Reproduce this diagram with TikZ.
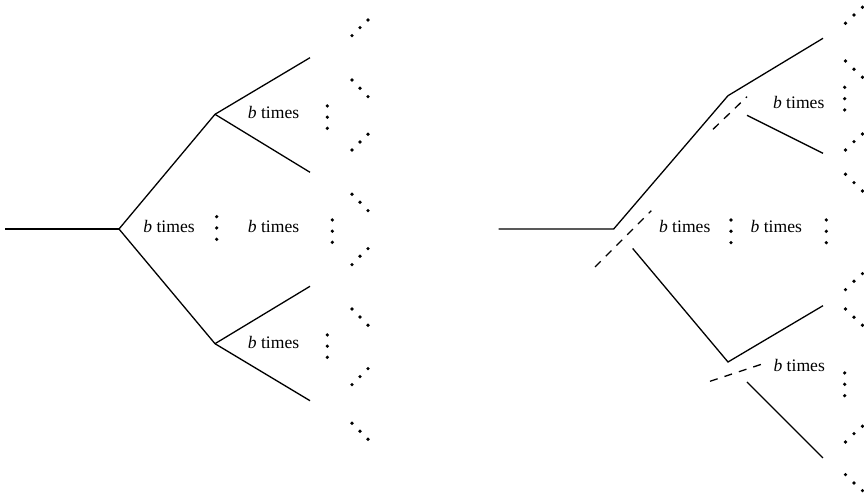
\documentclass[tikz,border=0pt]{standalone}
\usepackage{fontspec}
\setmainfont{Liberation Serif}
\begin{document}
\begin{tikzpicture}[x=0.5pt,y=-0.5pt,
  edge/.style={line width=0.65pt},
  cutline/.style={line width=0.65pt,dash pattern=on 4pt off 3.6pt},
  lbl/.style={anchor=base,inner sep=0pt,font=\fontsize{8.8}{10}\selectfont},
  dotr/.style={fill=black}]
\useasboundingbox (0,0) rectangle (864,496);
% ---------- left tree ----------
\coordinate (L0) at (5,229);
\coordinate (L1) at (119,229);
\coordinate (LU) at (215,114.3);
\coordinate (LD) at (215,343.7);
\coordinate (LUU) at (310,57.7);
\coordinate (LUD) at (310,172.3);
\coordinate (LDU) at (310,286.3);
\coordinate (LDD) at (310,400.7);
\draw[edge] (L0) -- (L1);
\draw[edge] (L1) -- (LU);
\draw[edge] (L1) -- (LD);
\draw[edge] (LU) -- (LUU);
\draw[edge] (LU) -- (LUD);
\draw[edge] (LD) -- (LDU);
\draw[edge] (LD) -- (LDD);
\node[lbl] (la) at (169,232.3) {\textit{b} times};
\node[lbl] (lb) at (273.5,232.3) {\textit{b} times};
\node[lbl] (lc) at (273.5,118.3) {\textit{b} times};
\node[lbl] (ld) at (273.5,348.7) {\textit{b} times};
% vertical dots
\foreach \x/\y in {216.7/216.7, 216.7/228, 216.7/239.3,
                   332.3/220, 332.3/231.2, 332.3/242.3,
                   327.3/106, 327.3/117.2, 327.3/128.3,
                   327.3/335, 327.3/346.2, 327.3/357.3}
  \fill[dotr] (\x,\y) circle (0.9pt);
% diagonal dots
\foreach \ya/\yb/\yc in {35.7/27.7/20, 80/88.3/96.7, 150/142/134.3, 194.3/202.3/210.7,
                         264.7/256.3/248.7, 309/317/325.3, 384.7/376.7/368.7, 423.3/431.3/439.3}
  {\fill[dotr] (352,\ya) circle (0.9pt);
   \fill[dotr] (360,\yb) circle (0.9pt);
   \fill[dotr] (368,\yc) circle (0.9pt);}
% ---------- right tree ----------
\coordinate (R0) at (498.7,229);
\coordinate (R1) at (613.7,229);
\coordinate (RU) at (728,95.7);
\coordinate (RUU) at (823,38.3);
\coordinate (RUDs) at (747,115.3);
\coordinate (RUD) at (823,153.3);
\coordinate (RUc1) at (713,129.3);
\coordinate (RUc2) at (747,96.7);
\coordinate (Rc1) at (595,267);
\coordinate (Rc2) at (651.3,210.7);
\coordinate (RDs) at (632.7,248.5);
\coordinate (RD) at (728,362);
\coordinate (RDU) at (823,305.7);
\coordinate (RDc1) at (710,381.3);
\coordinate (RDc2) at (765.3,363);
\coordinate (RDDs) at (747,382);
\coordinate (RDD) at (823,458);
\draw[edge] (R0) -- (R1) -- (RU) -- (RUU);
\draw[edge] (RUDs) -- (RUD);
\draw[cutline] (RUc1) -- (RUc2);
\draw[cutline] (Rc1) -- (Rc2);
\draw[edge] (RDs) -- (RD) -- (RDU);
\draw[cutline] (RDc1) -- (RDc2);
\draw[edge] (RDDs) -- (RDD);
\node[lbl] (ra) at (684.7,232.3) {\textit{b} times};
\node[lbl] (rb) at (776.3,232.3) {\textit{b} times};
\node[lbl] (rc) at (798.7,108.3) {\textit{b} times};
\node[lbl] (rd) at (799.2,371.3) {\textit{b} times};
\foreach \x/\y in {731/220, 731/231.3, 731/242.7,
                   826.3/220, 826.3/231.3, 826.3/242.7,
                   844.7/87.3, 844.7/98.7, 844.7/110,
                   844.7/373, 844.7/384.3, 844.7/395.7}
  \fill[dotr] (\x,\y) circle (0.9pt);
\foreach \ya/\yb/\yc in {23.3/15/7.3, 61/69.3/77.3, 150/141.7/134, 174.3/182.7/191,
                         289.7/281.3/273.7, 309/317.3/325.3, 442/433.7/426.3, 474.7/483/490.7}
  {\fill[dotr] (845.5,\ya) circle (0.9pt);
   \fill[dotr] (854,\yb) circle (0.9pt);
   \fill[dotr] (862.5,\yc) circle (0.9pt);}
\end{tikzpicture}
\end{document}
